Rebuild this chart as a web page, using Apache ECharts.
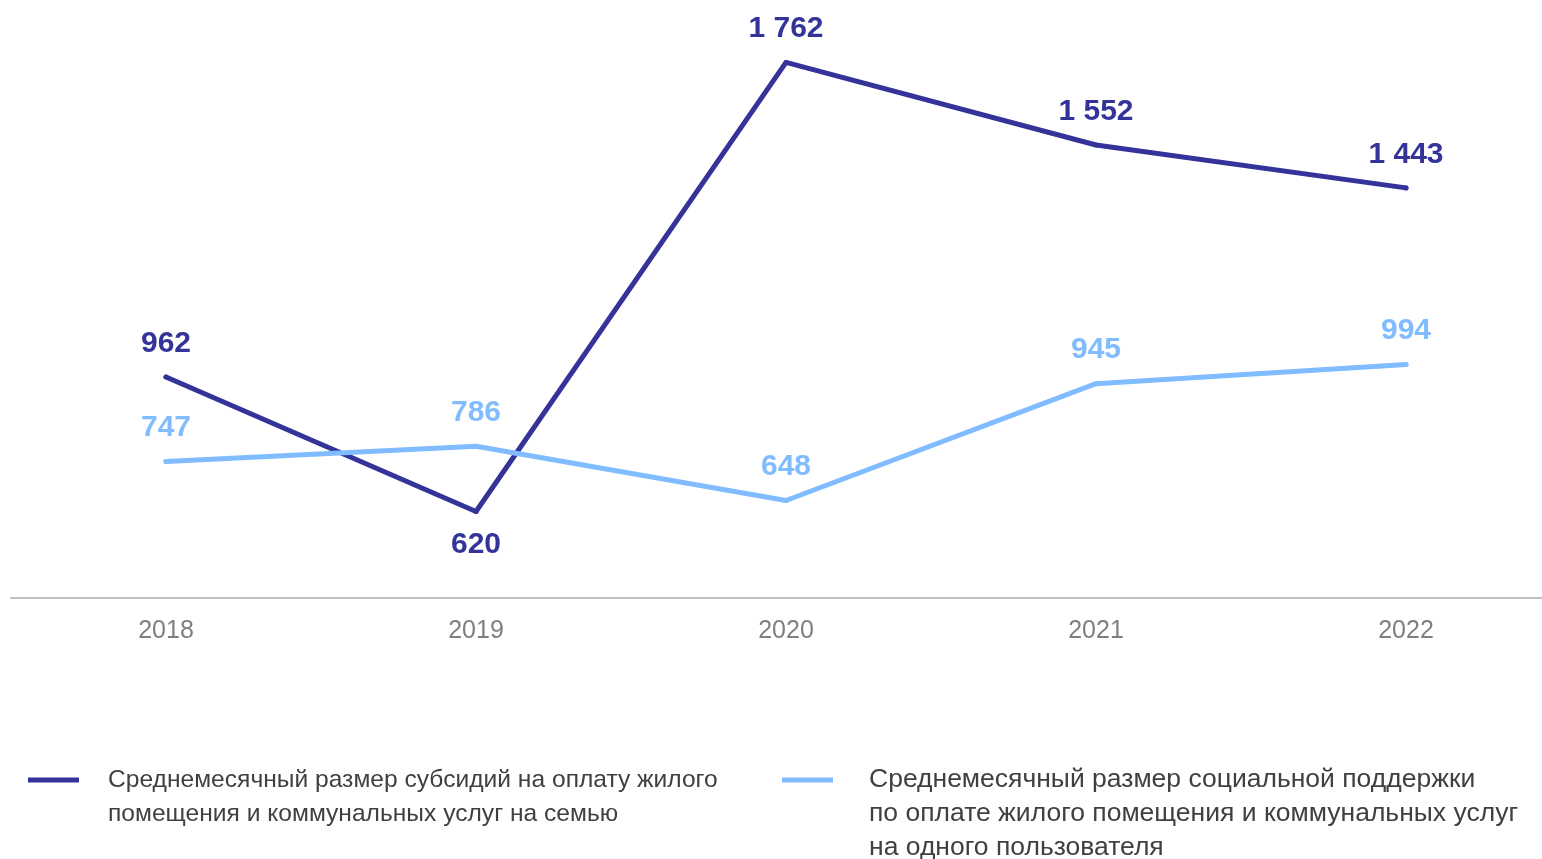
<!DOCTYPE html>
<html lang="ru">
<head>
<meta charset="utf-8">
<title>Среднемесячный размер субсидий</title>
<script src="https://cdn.jsdelivr.net/npm/echarts@6/dist/echarts.min.js"></script>
<style>
    html, body { margin: 0; padding: 0; background: #fff; }
    #chart { width: 1542px; height: 859px; }
</style>
</head>
<body>
<div id="chart"></div>
<script>
// Данные графика
const years = ['2018', '2019', '2020', '2021', '2022'];
const subsidyPerFamily = [962, 620, 1762, 1552, 1443];
const supportPerUser = [747, 786, 648, 945, 994];

// Строки подписей легенды
const subsidyLines = [
    'Среднемесячный размер субсидий на оплату жилого',
    'помещения и коммунальных услуг на семью'
];
const supportLines = [
    'Среднемесячный размер социальной поддержки',
    'по оплате жилого помещения и коммунальных услуг',
    'на одного пользователя'
];

// Точки, у которых подпись снизу
const subsidyBelow = [1];
const supportBelow = [];

const DARK = '#343399';
const LIGHT = '#80bcff';

document.addEventListener('DOMContentLoaded', () => {
    initChart();
});

// Формат числа: 1762 -> "1 762"
function formatValue(v) {
    return String(v).replace(/\B(?=(\d{3})+(?!\d))/g, ' ');
}

// Точки серии с подписями сверху/снизу
function buildPoints(values, below) {
    return values.map((v, i) => {
        if (below.includes(i)) {
            return { value: v, label: { position: 'bottom', distance: 16 } };
        }
        return v;
    });
}

function makeSeries(name, values, below, color) {
    return {
        name: name,
        type: 'line',
        data: buildPoints(values, below),
        symbol: 'circle',
        symbolSize: 5,
        itemStyle: { color: color },
        lineStyle: { color: color, width: 5, cap: 'round', join: 'round' },
        label: {
            show: true,
            position: 'top',
            distance: 16,
            color: color,
            fontFamily: 'Liberation Sans, Arial, sans-serif',
            fontWeight: 'bold',
            fontSize: 30,
            formatter: p => formatValue(p.value)
        },
        emphasis: { disabled: true },
        animation: false
    };
}

// Легенда: текст центрируется по значку, поэтому сверху добавляем пустые строки,
// чтобы значок оказался напротив первой строки
function makeLegend(lines, left, gap, size) {
    const name = lines.join(' ');
    const pad = new Array(lines.length - 1).fill('');
    return {
        data: [name],
        left: left,
        top: 780 - 34 * (lines.length - 1) - 17,
        orient: 'vertical',
        padding: 0,
        icon: 'rect',
        itemWidth: 51,
        itemHeight: 5,
        selectedMode: false,
        formatter: () => pad.concat(lines).join('\n'),
        textStyle: {
            color: '#404040',
            fontFamily: 'Liberation Sans, Arial, sans-serif',
            fontSize: size,
            lineHeight: 34,
            padding: [0, 0, 0, gap]
        }
    };
}

function initChart() {
    const chart = echarts.init(document.getElementById('chart'), null, { renderer: 'canvas' });

    chart.setOption({
        backgroundColor: '#ffffff',
        animation: false,
        grid: {
            left: 11,
            width: 1550,
            top: 47.5,
            bottom: 261,
            containLabel: false,
            outerBoundsMode: 'none'
        },
        legend: [
            makeLegend(subsidyLines, 28, 24, 24.6),
            makeLegend(supportLines, 782, 31, 26.5)
        ],
        xAxis: {
            type: 'category',
            data: years,
            boundaryGap: true,
            axisLine: { lineStyle: { color: '#bfbfbf', width: 2 } },
            axisTick: { show: false },
            axisLabel: {
                color: '#7f7f7f',
                fontFamily: 'Liberation Sans, Arial, sans-serif',
                fontSize: 25,
                margin: 21
            },
            splitLine: { show: false }
        },
        yAxis: {
            type: 'value',
            min: 400,
            max: 1800,
            show: false,
            splitLine: { show: false }
        },
        series: [
            makeSeries(subsidyLines.join(' '), subsidyPerFamily, subsidyBelow, DARK),
            makeSeries(supportLines.join(' '), supportPerUser, supportBelow, LIGHT)
        ]
    });
}
</script>
</body>
</html>
